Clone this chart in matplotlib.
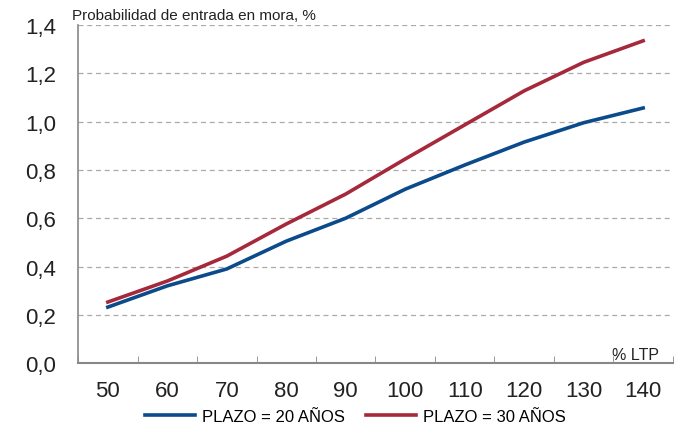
import matplotlib.pyplot as plt
import numpy as np

plt.rcParams['font.family'] = ['Liberation Sans', 'DejaVu Sans']

# data
ltp = [50, 60, 70, 80, 90, 100, 110, 120, 130, 140]
plazo_20 = [0.232, 0.32, 0.39, 0.505, 0.60, 0.72, 0.82, 0.915, 0.995, 1.056]
plazo_30 = [0.253, 0.34, 0.443, 0.576, 0.70, 0.845, 0.986, 1.127, 1.245, 1.334]
y_ticks = [0.0, 0.2, 0.4, 0.6, 0.8, 1.0, 1.2, 1.4]

BLUE = "#0b4a8b"
RED = "#a6293b"

fig = plt.figure(figsize=(6.79, 4.31), dpi=100)
ax = fig.add_axes([0.115, 0.155, 0.876, 0.785])

x = np.arange(len(ltp))
ax.plot(x, plazo_20, color=BLUE, linewidth=2.6, label="PLAZO = 20 AÑOS")
ax.plot(x, plazo_30, color=RED, linewidth=2.6, label="PLAZO = 30 AÑOS")

ax.set_xlim(-0.5, len(ltp) - 0.5)
ax.set_ylim(0, 1.4)
ax.set_yticks(y_ticks)
ax.set_yticklabels([f"{v:.1f}".replace(".", ",") for v in y_ticks])
ax.set_xticks(x)
ax.set_xticklabels([str(v) for v in ltp])
ax.set_xticks(np.arange(-0.5, len(ltp)), minor=True)
ax.tick_params(axis="x", which="major", length=0, pad=12, labelsize=16, colors="#222222")
ax.tick_params(axis="x", which="minor", length=5, direction="in", color="#888888")
ax.tick_params(axis="y", length=0, pad=16, labelsize=16, colors="#222222")

ax.grid(axis="y", linestyle=(0, (4, 3)), color="#aaaaaa", linewidth=0.9)
ax.set_axisbelow(True)
for s in ["top", "right"]:
    ax.spines[s].set_visible(False)
ax.spines["left"].set_color("#888888")
ax.spines["bottom"].set_color("#888888")
ax.spines["left"].set_linewidth(1.2)
ax.spines["bottom"].set_linewidth(1.5)

fig.text(0.106, 0.962, "Probabilidad de entrada en mora, %", fontsize=11, color="#222222",
         ha="left", va="center")
ax.text(9.26, 0.005, "% LTP", fontsize=11.5, color="#222222", ha="right", va="bottom")

ax.legend(loc="center", bbox_to_anchor=(0.466, -0.157), ncol=2, frameon=False,
          fontsize=12, handlelength=3.0, columnspacing=1.3, handletextpad=0.42)

plt.savefig("out.png", dpi=100)
